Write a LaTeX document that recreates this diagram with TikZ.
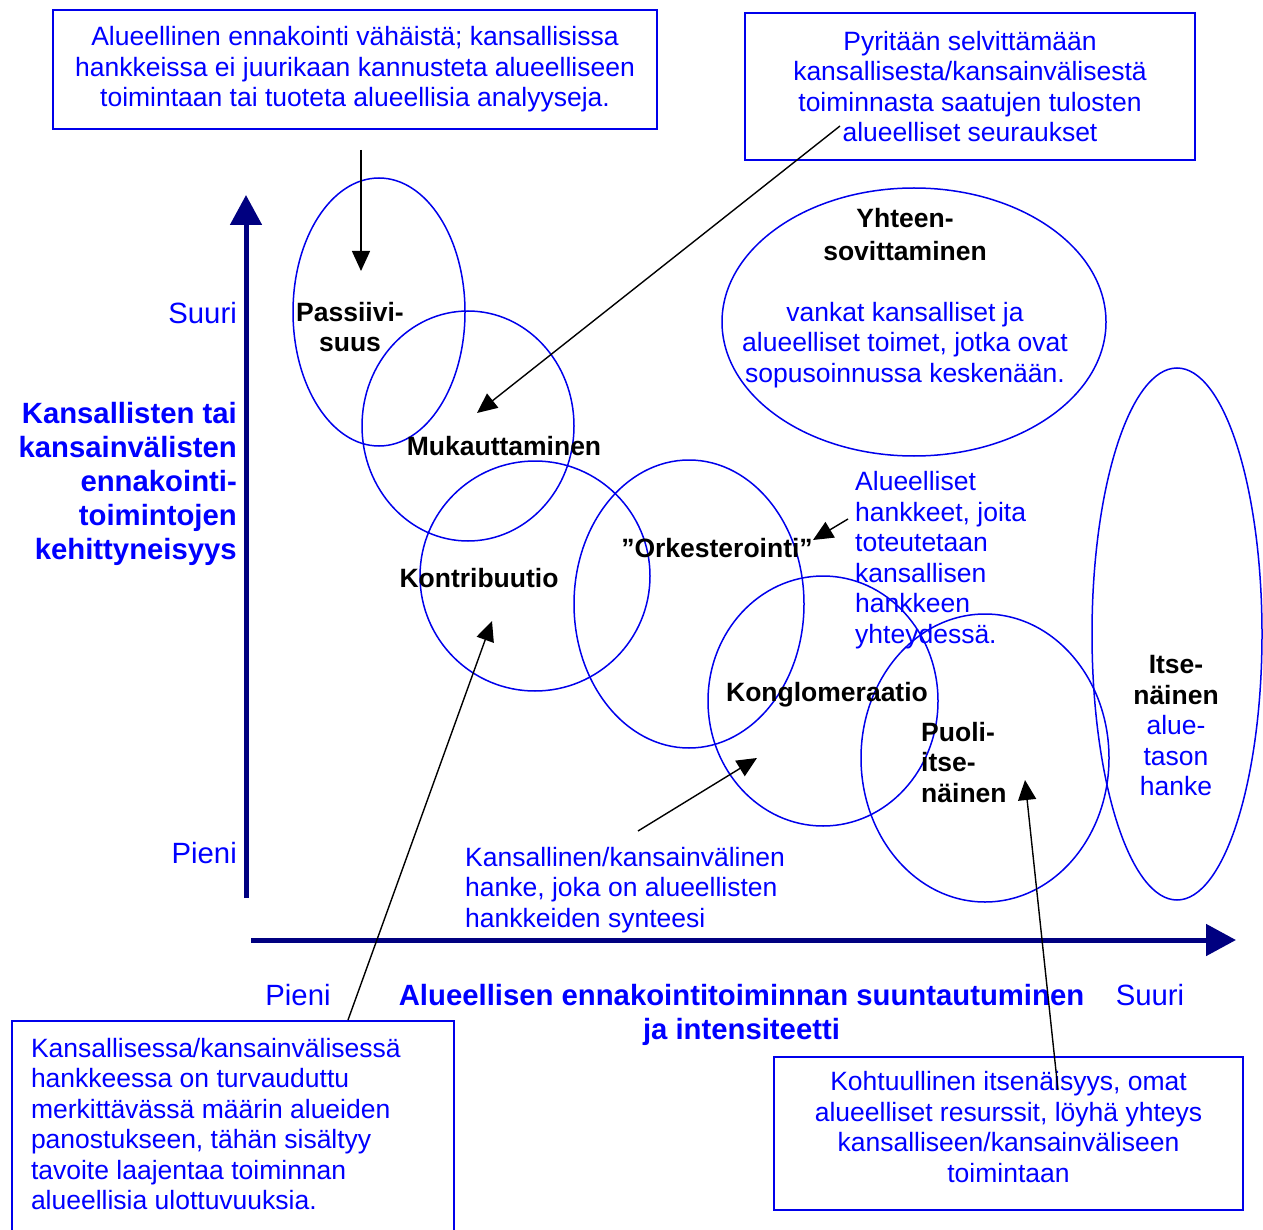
\documentclass[tikz,border=0pt]{standalone}
\usepackage{fontspec}
\setmainfont{Liberation Sans}
\usetikzlibrary{shapes.geometric,arrows.meta}
\definecolor{ringblue}{RGB}{0,0,235}
\definecolor{txtblue}{RGB}{0,0,255}
\definecolor{axisnavy}{RGB}{0,0,128}

\begin{document}
\begin{tikzpicture}[x=1pt,y=-1pt,
  every node/.style={font=\fontsize{26.5}{30.5}\selectfont, inner sep=0pt},
  oval/.style={draw=ringblue, line width=1.5pt, ellipse, inner sep=0pt},
  notebox/.style={draw=ringblue, line width=2pt, text=txtblue, rectangle, align=center},
  phase/.style={font=\fontsize{26.5}{30.5}\selectfont\bfseries, text=black},
  remark/.style={text=txtblue},
  scalemark/.style={font=\fontsize{29.3}{34}\selectfont, text=txtblue},
  axistitle/.style={font=\fontsize{29.3}{34}\selectfont\bfseries, text=txtblue},
  pointer/.style={line width=1.4pt, -{Triangle[length=20pt,width=18pt]}},
  axisline/.style={draw=axisnavy, line width=5pt, -{Triangle[length=30pt,width=31pt]}},
]
\useasboundingbox (0,0) rectangle (1263,1230);

% overlapping development stages
\node[oval, minimum width=172, minimum height=268] (passive) at (379,312) {};
\node[oval, minimum width=212, minimum height=230] (adapt)   at (468,426) {};
\node[oval, minimum width=230, minimum height=230] (contrib) at (535,576) {};
\node[oval, minimum width=230, minimum height=288] (orch)    at (689,604) {};
\node[oval, minimum width=230, minimum height=250] (conglo)  at (823,701) {};
\node[oval, minimum width=248, minimum height=288] (semi)    at (985,758) {};
\node[oval, minimum width=384, minimum height=268] (coord)   at (914,322) {};
\node[oval, minimum width=170, minimum height=532] (indep)   at (1177,634) {};

% stage names
\node[phase, align=center] (passiveT) at (350,327) {Passiivi-\\suus};
\node[phase] (adaptT)   at (504,446) {Mukauttaminen};
\node[phase] (contribT) at (479,578) {Kontribuutio};
\node[phase] (orchT)    at (717,548) {”Orkesterointi”};
\node[phase] (congloT)  at (827,695) {Konglomeraatio};
\node[phase, align=left, anchor=west] (semiT) at (921,762.5) {Puoli-\\itse-\\näinen};
\node[align=center] (coordT) at (905,298)
  {\textbf{Yhteen-}\\[2.5pt]\textbf{sovittaminen}\\[30.5pt]
   \textcolor{txtblue}{vankat kansalliset ja}\\
   \textcolor{txtblue}{alueelliset toimet, jotka ovat}\\
   \textcolor{txtblue}{sopusoinnussa keskenään.}};
\node[align=center] (indepT) at (1176,726)
  {\textbf{Itse-}\\\textbf{näinen}\\
   \textcolor{txtblue}{alue-}\\\textcolor{txtblue}{tason}\\\textcolor{txtblue}{hanke}};

% free-standing remarks
\node[remark, align=left, anchor=west] (regionalT) at (855,560)
  {Alueelliset\\hankkeet, joita\\toteutetaan\\kansallisen\\hankkeen\\yhteydessä.};
\node[remark, align=left, anchor=west] (synthT) at (465,890)
  {Kansallinen/kansainvälinen\\hanke, joka on alueellisten\\hankkeiden synteesi};

% framed remarks
\node[notebox, minimum width=604, minimum height=119] (boxTL) at (355,69.5)
  {Alueellinen ennakointi vähäistä; kansallisissa\\hankkeissa ei juurikaan kannusteta alueelliseen\\toimintaan tai tuoteta alueellisia analyyseja.};
\node[notebox, minimum width=450, minimum height=147] (boxTR) at (970,86.5)
  {Pyritään selvittämään\\kansallisesta/kansainvälisestä\\toiminnasta saatujen tulosten\\alueelliset seuraukset};
\node[notebox, anchor=north west, inner xsep=10pt, inner ysep=14.5pt] (boxBR) at (773,1056)
  {\begin{minipage}[t][124pt][t]{449pt}\centering
   Kohtuullinen itsenäisyys, omat\\alueelliset resurssit, löyhä yhteys\\kansalliseen/kansainväliseen\\toimintaan\end{minipage}};
\node[notebox, anchor=north west, inner xsep=19pt, inner ysep=17pt] (boxBL) at (11,1020)
  {\begin{minipage}[t][240pt][t]{404pt}\raggedright
   Kansallisessa/kansainvälisessä\\hankkeessa on turvauduttu\\merkittävässä määrin alueiden\\panostukseen, tähän sisältyy\\tavoite laajentaa toiminnan\\alueellisia ulottuvuuksia.\end{minipage}};

% axes
\coordinate (yfoot) at (246,898);
\coordinate (ytip)  at (246,195);
\coordinate (xfoot) at (251,940);
\coordinate (xtip)  at (1236,940);
\draw[axisline] (yfoot) -- (ytip);
\draw[axisline] (xfoot) -- (xtip);

\node[scalemark, anchor=east] (yHigh) at (237,313) {Suuri};
\node[scalemark, anchor=east] (yLow)  at (237,853) {Pieni};
\node[axistitle, align=right, anchor=east] (yTitle) at (237,484)
  {Kansallisten tai\\kansainvälisten\\ennakointi-\\toimintojen\\kehittyneisyys};
\node[scalemark] (xLow)  at (298,995) {Pieni};
\node[scalemark] (xHigh) at (1150,995) {Suuri};
\node[axistitle, align=center] (xTitle) at (741.5,1015)
  {Alueellisen ennakointitoiminnan suuntautuminen\\ja intensiteetti};

% pointers from the remarks
\coordinate (p1s) at (361,150);  \coordinate (p1e) at (361,271);
\coordinate (p2s) at (840,126);  \coordinate (p2e) at (477,413);
\coordinate (p3s) at (848,519);  \coordinate (p3e) at (813,540);
\coordinate (p4s) at (638,831);  \coordinate (p4e) at (757,758);
\coordinate (p5s) at (348,1020); \coordinate (p5e) at (492,621);
\coordinate (p6s) at (1058,1090);\coordinate (p6e) at (1025,780);
\draw[pointer] (p1s) -- (p1e);
\draw[pointer] (p2s) -- (p2e);
\draw[pointer] (p3s) -- (p3e);
\draw[pointer] (p4s) -- (p4e);
\draw[pointer] (p5s) -- (p5e);
\draw[pointer] (p6s) -- (p6e);
\end{tikzpicture}
\end{document}
